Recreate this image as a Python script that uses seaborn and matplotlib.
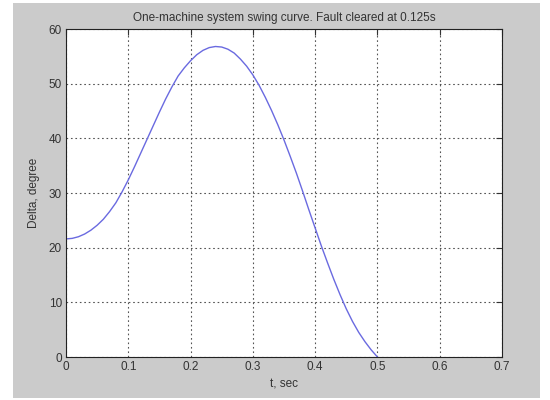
import matplotlib
matplotlib.use("Agg")
import matplotlib.pyplot as plt
from matplotlib.patches import Rectangle
import seaborn as sns
import pandas as pd

# Swing curve of rotor angle after fault clearing
t_sec = [0.0, 0.01, 0.02, 0.03, 0.04, 0.05, 0.06, 0.07, 0.08, 0.09, 0.1,
         0.11, 0.12, 0.13, 0.14, 0.15, 0.16, 0.17, 0.18, 0.19, 0.2,
         0.21, 0.22, 0.23, 0.24, 0.25, 0.26, 0.27, 0.28, 0.29, 0.3,
         0.31, 0.32, 0.33, 0.34, 0.35, 0.36, 0.37, 0.38, 0.39, 0.4,
         0.41, 0.42, 0.43, 0.44, 0.45, 0.46, 0.47, 0.48, 0.49, 0.5]
delta_deg = [21.6, 21.7, 22.0, 22.5, 23.2, 24.1, 25.2, 26.6, 28.2, 30.2, 32.4,
             34.8, 37.3, 39.8, 42.3, 44.8, 47.2, 49.4, 51.4, 52.9, 54.2,
             55.3, 56.1, 56.6, 56.8, 56.7, 56.3, 55.6, 54.5, 53.2, 51.6,
             49.7, 47.5, 45.1, 42.5, 39.7, 36.7, 33.6, 30.3, 26.9, 23.6,
             20.3, 17.2, 14.2, 11.4, 8.8, 6.5, 4.5, 2.8, 1.3, 0.0]

x_ticks = [0, 0.1, 0.2, 0.3, 0.4, 0.5, 0.6, 0.7]
x_tick_labels = ["0", "0.1", "0.2", "0.3", "0.4", "0.5", "0.6", "0.7"]
y_ticks = [0, 10, 20, 30, 40, 50, 60]

df = pd.DataFrame({"t": t_sec, "delta": delta_deg})

sns.set_style("white")
plt.rcParams["font.family"] = ["Liberation Sans", "DejaVu Sans"]

fig = plt.figure(figsize=(5.5, 4.0), dpi=100, facecolor="white")
fig.patches.append(Rectangle((13 / 550, 2 / 400), 527 / 550, 395 / 400,
                             transform=fig.transFigure, facecolor="#cbcbcb",
                             edgecolor="none", zorder=-10))
ax = fig.add_axes([66 / 550, 1 - 357 / 400, 436 / 550, 328 / 400])
ax.set_facecolor("white")

sns.lineplot(data=df, x="t", y="delta", ax=ax, color="#6a6ae0", linewidth=1.0)

ax.set_xlim(0, 0.7)
ax.set_ylim(0, 60)
ax.set_xticks(x_ticks)
ax.set_xticklabels(x_tick_labels)
ax.set_yticks(y_ticks)
ax.grid(True, color="#555555", linestyle=(0, (1.5, 2.5)), linewidth=0.8)
ax.tick_params(direction="in", length=4, width=0.8, top=True, right=True,
               labelsize=8.5, colors="#333333", pad=3)
for s in ax.spines.values():
    s.set_color("#222222")
    s.set_linewidth(0.8)

ax.set_title("One-machine system swing curve. Fault cleared at 0.125s",
             fontsize=8.5, color="#333333", pad=6)
ax.set_xlabel("t, sec", fontsize=8.5, color="#333333", labelpad=4)
ax.set_ylabel("Delta, degree", fontsize=8.5, color="#333333", labelpad=6)

fig.savefig("out.png", dpi=100, facecolor=fig.get_facecolor())
